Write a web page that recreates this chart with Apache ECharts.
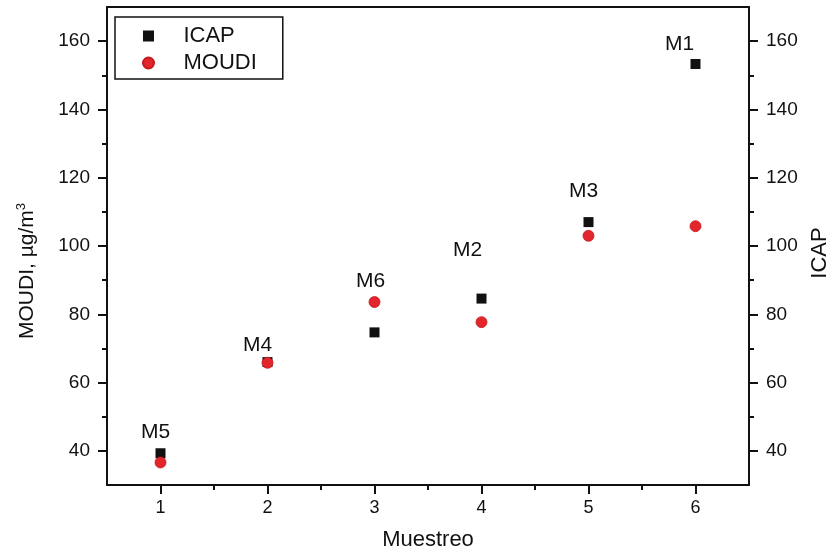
<!DOCTYPE html>
<html>
<head>
<meta charset="utf-8">
<script src="https://cdn.jsdelivr.net/npm/echarts@6/dist/echarts.min.js"></script>
<style>html,body{margin:0;padding:0;background:#fff}#c{width:828px;height:558px}</style>
</head>
<body>
<div id="c"></div>
<script>
const samples = [1, 2, 3, 4, 5, 6];
const icap = [39.3, 66.0, 74.7, 84.6, 107.0, 153.3];
const moudi = [36.6, 65.8, 83.6, 77.7, 103.0, 105.8];
const sampleNames = ['M5', 'M4', 'M6', 'M2', 'M3', 'M1'];
const xTicks = [1, 2, 3, 4, 5, 6];
const xMinorTicks = [1.5, 2.5, 3.5, 4.5, 5.5];
const yTicks = [40, 60, 80, 100, 120, 140, 160];
const yMinorTicks = [50, 70, 90, 110, 130, 150];

const labelOffsets = [[-5, -21], [-10, -17], [-4, -51], [-14, -48], [-5, -31], [-16, -20]];

const FONT = '"Liberation Sans", Arial, sans-serif';
const INK = '#111';

function yAxisBase(pos, extra) {
  return Object.assign({
    type: 'value', position: pos, min: 30, max: 170,
    axisLine: { show: true, lineStyle: { color: INK, width: 2 } },
    splitLine: { show: false },
    axisTick: { show: true, inside: false, length: 9, customValues: yTicks, lineStyle: { color: INK, width: 2 } },
    axisLabel: { show: true, margin: 17, customValues: yTicks, color: INK, fontSize: 19, fontFamily: FONT }
  }, extra);
}
function minorY(pos) {
  return {
    type: 'value', position: pos, min: 30, max: 170,
    axisLine: { show: false }, splitLine: { show: false },
    axisTick: { show: true, inside: false, length: 5, customValues: yMinorTicks, lineStyle: { color: INK, width: 2 } },
    axisLabel: { show: false }
  };
}

const chart = echarts.init(document.getElementById('c'), null, { renderer: 'canvas' });
chart.setOption({
  animation: false,
  backgroundColor: '#fff',
  grid: { left: 107, right: 79, top: 7, bottom: 73, containLabel: false, outerBoundsMode: 'none' },
  legend: {
    orient: 'vertical', left: 115, top: 17,
    data: ['ICAP', 'MOUDI'],
    borderColor: INK, borderWidth: 1.5, borderRadius: 0,
    padding: [7, 26, 4, 27],
    itemGap: 3, itemWidth: 11, itemHeight: 11,
    formatter: '    {name}',
    textStyle: { color: INK, fontSize: 22, fontFamily: FONT, lineHeight: 24 }
  },
  xAxis: [
    {
      type: 'value', position: 'bottom', min: 0.5, max: 6.5,
      name: 'Muestreo', nameLocation: 'middle', nameGap: 44,
      nameTextStyle: { color: INK, fontSize: 22, fontFamily: FONT },
      axisLine: { show: true, onZero: false, lineStyle: { color: INK, width: 2 } },
      splitLine: { show: false },
      axisTick: { show: true, inside: false, length: 9, customValues: xTicks, lineStyle: { color: INK, width: 2 } },
      axisLabel: { show: true, margin: 14, customValues: xTicks, color: INK, fontSize: 18, fontFamily: FONT }
    },
    {
      type: 'value', position: 'bottom', min: 0.5, max: 6.5,
      axisLine: { show: false }, splitLine: { show: false },
      axisTick: { show: true, inside: false, length: 5, customValues: xMinorTicks, lineStyle: { color: INK, width: 2 } },
      axisLabel: { show: false }
    },
    {
      type: 'value', position: 'top', min: 0.5, max: 6.5,
      axisLine: { show: true, onZero: false, lineStyle: { color: INK, width: 2 } },
      splitLine: { show: false }, axisTick: { show: false }, axisLabel: { show: false }
    }
  ],
  yAxis: [
    yAxisBase('left', {
      name: 'MOUDI, µg/m{sup|3}', nameLocation: 'middle', nameGap: 67, nameRotate: 90,
      nameTextStyle: { color: INK, fontSize: 21, fontFamily: FONT, padding: [0, 50, 0, 0],
        rich: { sup: { fontSize: 13, fontFamily: FONT, color: INK, verticalAlign: 'top', padding: [0, 0, 12, 0] } } }
    }),
    yAxisBase('right', {
      name: 'ICAP', nameLocation: 'middle', nameGap: 57, nameRotate: 90,
      nameTextStyle: { color: INK, fontSize: 22, fontFamily: FONT, padding: [0, 14, 0, 0] }
    }),
    minorY('left'),
    minorY('right')
  ],
  series: [
    {
      name: 'ICAP', type: 'scatter', xAxisIndex: 0, yAxisIndex: 1,
      symbol: 'rect', symbolSize: 10,
      itemStyle: { color: '#111', opacity: 1 },
      data: samples.map((x, i) => [x, icap[i]]),
      z: 3
    },
    {
      name: 'MOUDI', type: 'scatter', xAxisIndex: 0, yAxisIndex: 0,
      symbol: 'circle', symbolSize: 11,
      itemStyle: { color: '#e3262b', borderColor: '#c41a1e', borderWidth: 0.8, opacity: 1 },
      data: samples.map((x, i) => [x, moudi[i]]),
      z: 4
    },
    {
      name: 'labels', type: 'scatter', xAxisIndex: 0, yAxisIndex: 1,
      symbolSize: 1, itemStyle: { color: 'rgba(0,0,0,0)' }, silent: true,
      data: samples.map((x, i) => ({
        value: [x, icap[i]],
        label: { show: true, position: 'inside', offset: labelOffsets[i], formatter: sampleNames[i],
          color: INK, fontSize: 21, fontFamily: FONT, opacity: 1 }
      })),
      z: 5
    }
  ]
});
</script>
</body>
</html>
